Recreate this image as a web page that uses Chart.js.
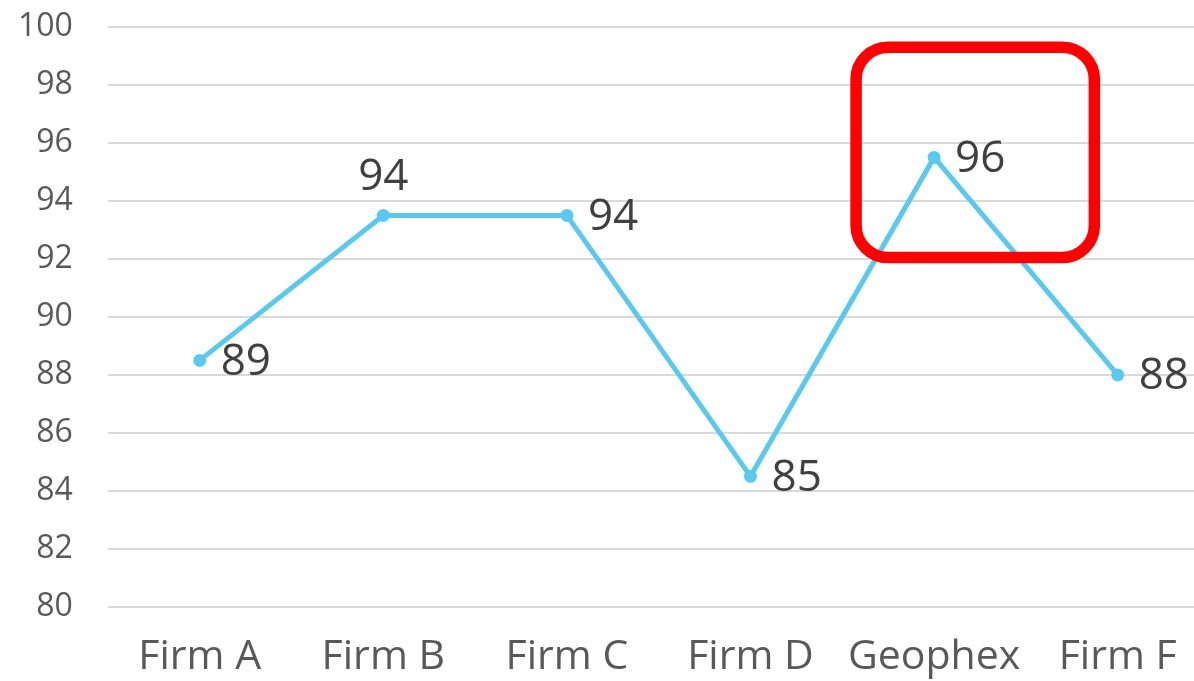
<!DOCTYPE html>
<html>
<head>
<meta charset="utf-8">
<script src="https://cdn.jsdelivr.net/npm/chart.js@4"></script>
<style>
  html, body { margin: 0; padding: 0; background: #fff; overflow: hidden; }
  #wrap { width: 1216px; height: 708px; position: relative; }
</style>
</head>
<body>
<div id="wrap"><canvas id="c"></canvas></div>
<script>
const categories = ["Firm A", "Firm B", "Firm C", "Firm D", "Geophex", "Firm F"];
const values = [88.5, 93.5, 93.5, 84.5, 95.5, 88];
const valueLabels = ["89", "94", "94", "85", "96", "88"];
const labelSides = ["right", "top", "right", "right", "right", "right"];
const yTicks = [80, 82, 84, 86, 88, 90, 92, 94, 96, 98, 100];
const highlightIndex = 4;
const highlightRange = [92.05, 99.3];

const FONT = "'Open Sans', 'Noto Sans', sans-serif";

const labelPlugin = {
  id: 'valueLabels',
  afterDatasetsDraw(chart) {
    const ctx = chart.ctx;
    const meta = chart.getDatasetMeta(0);
    ctx.save();
    ctx.font = "44px " + FONT;
    ctx.fillStyle = "#404040";
    meta.data.forEach((pt, i) => {
      const side = labelSides[i];
      if (side === 'top') {
        ctx.textAlign = 'center';
        ctx.textBaseline = 'bottom';
        ctx.fillText(valueLabels[i], pt.x, pt.y - 16);
      } else {
        ctx.textAlign = 'left';
        ctx.textBaseline = 'middle';
        ctx.fillText(valueLabels[i], pt.x + 21, pt.y + 2);
      }
    });
    ctx.restore();
  }
};

const boxPlugin = {
  id: 'highlightBox',
  afterDraw(chart) {
    const ctx = chart.ctx;
    const xs = chart.scales.x, ys = chart.scales.y;
    const cx = xs.getPixelForValue(highlightIndex);
    const step = xs.getPixelForValue(1) - xs.getPixelForValue(0);
    const left = cx - 0.425 * step;
    const right = cx + 0.873 * step;
    const top = ys.getPixelForValue(highlightRange[1]);
    const bottom = ys.getPixelForValue(highlightRange[0]);
    ctx.save();
    ctx.strokeStyle = "#ff0000";
    ctx.lineWidth = 11.5;
    ctx.beginPath();
    ctx.roundRect(left, top, right - left, bottom - top, 32);
    ctx.stroke();
    ctx.restore();
  }
};

new Chart(document.getElementById('c'), {
  type: 'line',
  data: {
    labels: categories,
    datasets: [{
      data: values,
      borderColor: "rgb(91,200,238)",
      backgroundColor: "rgb(91,200,238)",
      borderWidth: 5,
      pointRadius: 6.5,
      pointHoverRadius: 6.5,
      pointBorderWidth: 0,
      tension: 0,
      fill: false
    }]
  },
  options: {
    responsive: true,
    maintainAspectRatio: false,
    animation: false,
    devicePixelRatio: 1,
    layout: { padding: { left: 18, right: 1, top: 27, bottom: 0 } },
    plugins: { legend: { display: false }, tooltip: { enabled: false } },
    scales: {
      x: {
        offset: true,
        grid: { display: false, drawTicks: false },
        border: { display: false },
        ticks: { color: "#595959", font: { family: FONT, size: 41 }, padding: 26 }
      },
      y: {
        min: 80, max: 100,
        afterBuildTicks(axis) { axis.ticks = yTicks.map(v => ({ value: v })); },
        grid: { color: "#d9d9d9", lineWidth: 2, drawTicks: true, tickLength: 35, tickColor: "rgba(0,0,0,0)" },
        border: { display: false },
        ticks: { color: "#595959", font: { family: FONT, size: 32 }, padding: 0 }
      }
    }
  },
  plugins: [labelPlugin, boxPlugin]
});
</script>
</body>
</html>
